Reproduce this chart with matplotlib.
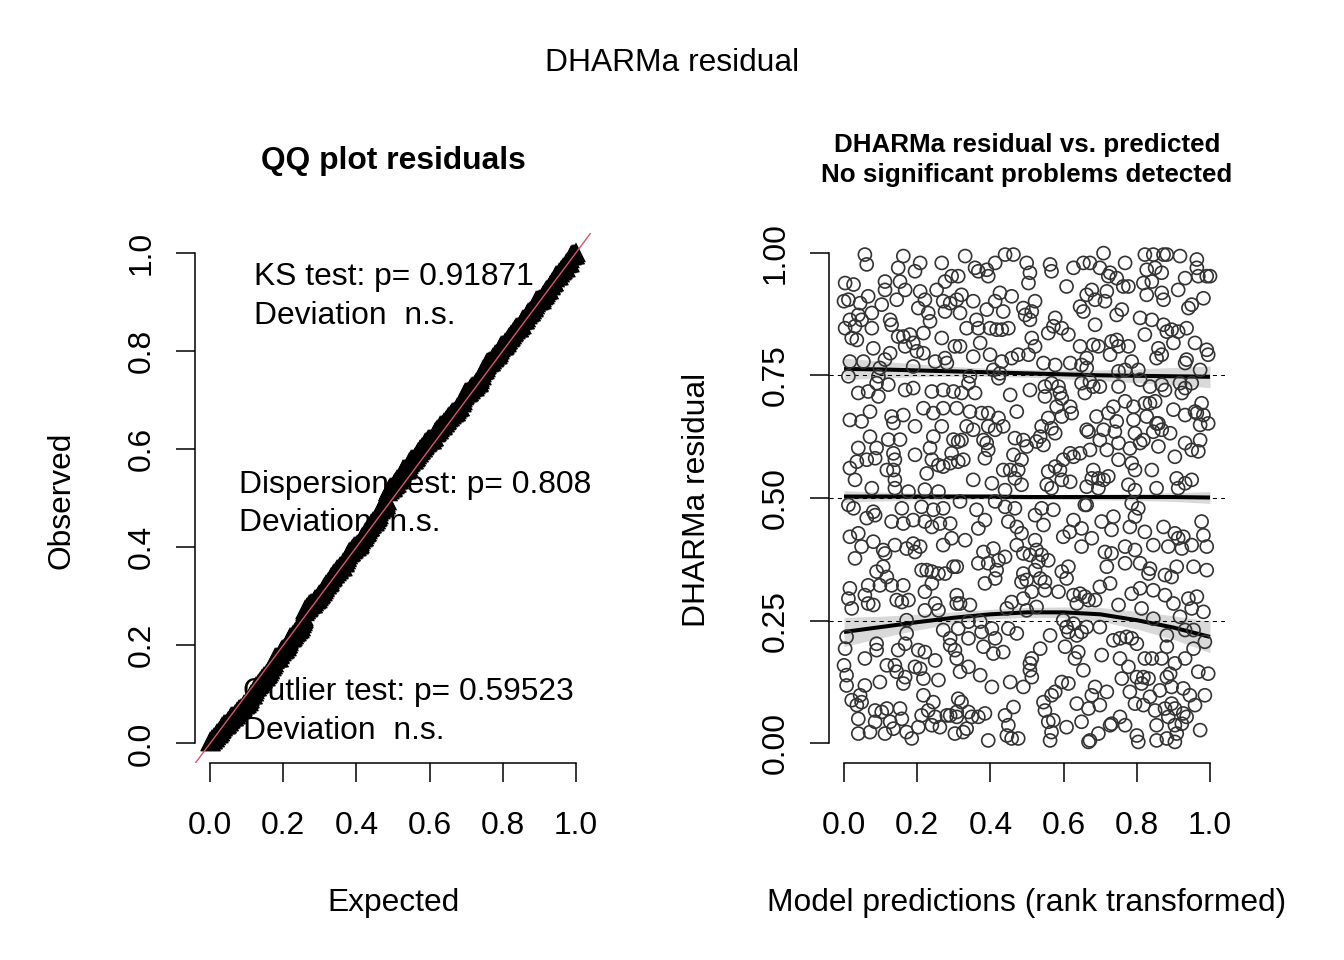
import numpy as np
import matplotlib
matplotlib.use("Agg")
import matplotlib.pyplot as plt

plt.rcParams['font.family'] = ['Liberation Sans', 'DejaVu Sans']

# scaled residuals: (rank transformed prediction, residual)
upper_left = [
    (0.057, 0.996), (0.062, 0.976), (0.162, 0.993), (0.208, 0.979), (0.267, 0.979), (0.148, 0.969),
    (0.194, 0.962), (0.003, 0.938), (0.026, 0.935), (0.112, 0.941), (0.153, 0.941), (0.294, 0.952),
    (0.276, 0.941), (0.253, 0.924), (0.112, 0.924), (0.167, 0.924), (0.208, 0.921), (0.000, 0.901),
    (0.012, 0.904), (0.044, 0.897), (0.066, 0.911), (0.103, 0.894), (0.144, 0.904), (0.221, 0.904),
    (0.271, 0.901), (0.290, 0.897), (0.039, 0.873), (0.076, 0.877), (0.016, 0.863), (0.048, 0.863),
    (0.126, 0.863), (0.130, 0.853), (0.203, 0.887), (0.230, 0.877), (0.276, 0.880), (0.003, 0.846),
    (0.030, 0.850), (0.076, 0.846), (0.235, 0.860), (0.148, 0.829), (0.162, 0.829), (0.180, 0.833),
    (0.217, 0.836), (0.021, 0.826), (0.035, 0.822), (0.189, 0.816), (0.167, 0.809), (0.080, 0.805),
    (0.126, 0.795), (0.199, 0.799), (0.217, 0.795), (0.267, 0.826), (0.303, 0.809), (0.016, 0.778),
    (0.053, 0.778), (0.112, 0.782), (0.249, 0.778), (0.276, 0.785), (0.281, 0.775), (0.098, 0.765),
    (0.189, 0.768), (0.012, 0.748), (0.094, 0.748), (0.089, 0.734), (0.121, 0.731), (0.167, 0.720),
    (0.189, 0.724), (0.039, 0.714), (0.066, 0.717), (0.094, 0.707), (0.240, 0.717), (0.271, 0.720),
    (0.299, 0.717), (0.016, 0.659), (0.048, 0.656), (0.071, 0.676), (0.130, 0.666), (0.135, 0.653),
    (0.162, 0.669), (0.217, 0.683), (0.244, 0.673), (0.271, 0.683), (0.194, 0.646), (0.267, 0.646),
    (0.071, 0.625), (0.121, 0.619), (0.153, 0.619), (0.244, 0.625), (0.299, 0.619), (0.039, 0.602),
    (0.089, 0.602), (0.135, 0.591), (0.194, 0.588), (0.235, 0.602), (0.294, 0.591), (0.016, 0.561),
    (0.035, 0.574), (0.062, 0.578), (0.085, 0.581), (0.139, 0.578), (0.240, 0.578), (0.258, 0.567),
    (0.271, 0.564), (0.290, 0.571), (0.117, 0.557), (0.135, 0.557), (0.030, 0.537), (0.139, 0.537),
    (0.226, 0.550), (0.076, 0.520), (0.139, 0.520), (0.176, 0.513), (0.221, 0.517), (0.258, 0.513),
]
upper_mid = [
    (0.331, 0.993), (0.358, 0.969), (0.367, 0.962), (0.390, 0.965), (0.394, 0.952), (0.413, 0.979),
    (0.440, 0.996), (0.463, 0.996), (0.499, 0.979), (0.508, 0.959), (0.504, 0.938), (0.563, 0.976),
    (0.567, 0.962), (0.627, 0.969), (0.654, 0.979), (0.608, 0.931), (0.312, 0.952), (0.321, 0.914),
    (0.308, 0.904), (0.353, 0.901), (0.390, 0.884), (0.413, 0.901), (0.426, 0.918), (0.458, 0.911),
    (0.435, 0.880), (0.490, 0.887), (0.495, 0.873), (0.513, 0.880), (0.522, 0.901), (0.508, 0.863),
    (0.577, 0.867), (0.572, 0.850), (0.595, 0.846), (0.613, 0.833), (0.558, 0.836), (0.645, 0.890),
    (0.654, 0.880), (0.663, 0.914), (0.317, 0.877), (0.362, 0.863), (0.367, 0.846), (0.335, 0.846),
    (0.399, 0.846), (0.417, 0.843), (0.431, 0.843), (0.449, 0.846), (0.513, 0.826), (0.522, 0.809),
    (0.317, 0.809), (0.372, 0.816), (0.399, 0.792), (0.353, 0.788), (0.431, 0.778), (0.458, 0.785),
    (0.476, 0.792), (0.504, 0.792), (0.545, 0.775), (0.577, 0.771), (0.618, 0.775), (0.649, 0.771),
    (0.645, 0.809), (0.663, 0.785), (0.408, 0.761), (0.426, 0.754), (0.422, 0.744), (0.344, 0.748),
    (0.340, 0.734), (0.321, 0.714), (0.358, 0.714), (0.454, 0.710), (0.508, 0.720), (0.549, 0.727),
    (0.567, 0.734), (0.586, 0.727), (0.590, 0.714), (0.595, 0.703), (0.549, 0.707), (0.649, 0.734),
    (0.658, 0.714), (0.308, 0.683), (0.344, 0.676), (0.376, 0.673), (0.394, 0.673), (0.422, 0.663),
    (0.435, 0.646), (0.472, 0.676), (0.335, 0.646), (0.353, 0.639), (0.394, 0.646), (0.413, 0.639),
    (0.540, 0.646), (0.567, 0.642), (0.577, 0.632), (0.618, 0.686), (0.622, 0.673), (0.581, 0.686),
    (0.595, 0.666), (0.558, 0.663), (0.663, 0.639), (0.312, 0.615), (0.321, 0.618), (0.381, 0.618),
    (0.390, 0.612), (0.394, 0.598), (0.467, 0.622), (0.490, 0.618), (0.499, 0.605), (0.463, 0.588),
    (0.485, 0.578), (0.526, 0.615), (0.545, 0.608), (0.536, 0.625), (0.312, 0.574), (0.326, 0.578),
    (0.385, 0.581), (0.454, 0.557), (0.476, 0.557), (0.467, 0.540), (0.485, 0.527), (0.435, 0.557),
    (0.353, 0.537), (0.404, 0.530), (0.440, 0.516), (0.558, 0.554), (0.577, 0.564), (0.590, 0.557),
    (0.599, 0.578), (0.618, 0.591), (0.627, 0.584), (0.645, 0.591), (0.595, 0.537), (0.618, 0.533),
    (0.554, 0.527), (0.567, 0.520), (0.663, 0.523),
]
upper_right = [
    (0.709, 0.999), (0.822, 0.996), (0.845, 0.996), (0.873, 0.996), (0.882, 0.996), (0.918, 0.993),
    (0.964, 0.986), (0.672, 0.979), (0.699, 0.969), (0.768, 0.979), (0.827, 0.965), (0.850, 0.969),
    (0.868, 0.959), (0.964, 0.969), (0.968, 0.952), (0.991, 0.952), (1.000, 0.952), (0.932, 0.948),
    (0.722, 0.952), (0.745, 0.948), (0.727, 0.959), (0.763, 0.931), (0.777, 0.931), (0.818, 0.938),
    (0.841, 0.941), (0.677, 0.924), (0.718, 0.921), (0.686, 0.904), (0.713, 0.901), (0.827, 0.914),
    (0.868, 0.918), (0.913, 0.924), (0.873, 0.904), (0.950, 0.894), (0.941, 0.887), (0.982, 0.907),
    (0.759, 0.884), (0.745, 0.873), (0.809, 0.867), (0.841, 0.863), (0.686, 0.853), (0.873, 0.853),
    (0.882, 0.839), (0.895, 0.843), (0.913, 0.839), (0.936, 0.846), (0.822, 0.833), (0.681, 0.812),
    (0.695, 0.809), (0.731, 0.819), (0.750, 0.809), (0.745, 0.822), (0.727, 0.792), (0.777, 0.809),
    (0.859, 0.805), (0.900, 0.816), (0.959, 0.816), (0.991, 0.802), (0.995, 0.792), (0.786, 0.778),
    (0.854, 0.785), (0.868, 0.792), (0.936, 0.782), (0.932, 0.775), (0.973, 0.761), (0.663, 0.765),
    (0.750, 0.758), (0.768, 0.761), (0.804, 0.761), (0.809, 0.741), (0.672, 0.737), (0.699, 0.727),
    (0.681, 0.727), (0.750, 0.727), (0.836, 0.727), (0.868, 0.731), (0.877, 0.720), (0.918, 0.734),
    (0.950, 0.734), (0.923, 0.714), (0.932, 0.724), (0.850, 0.697), (0.836, 0.693), (0.822, 0.693),
    (0.768, 0.697), (0.791, 0.686), (0.736, 0.686), (0.722, 0.673), (0.690, 0.666), (0.745, 0.656),
    (0.791, 0.659), (0.827, 0.666), (0.854, 0.652), (0.900, 0.680), (0.932, 0.669), (0.959, 0.676),
    (0.977, 0.693), (0.964, 0.673), (0.982, 0.669), (0.995, 0.652), (0.973, 0.649), (0.668, 0.635),
    (0.709, 0.639), (0.740, 0.635), (0.795, 0.632), (0.818, 0.618), (0.845, 0.635), (0.859, 0.652),
    (0.868, 0.639), (0.891, 0.632), (0.699, 0.618), (0.718, 0.598), (0.672, 0.598), (0.750, 0.612),
    (0.781, 0.601), (0.809, 0.612), (0.859, 0.605), (0.904, 0.584), (0.932, 0.612), (0.950, 0.598),
    (0.968, 0.595), (0.973, 0.618), (0.750, 0.578), (0.786, 0.571), (0.795, 0.557), (0.841, 0.557),
    (0.681, 0.557), (0.695, 0.540), (0.709, 0.537), (0.722, 0.544), (0.677, 0.540), (0.695, 0.520),
    (0.777, 0.527), (0.795, 0.516), (0.854, 0.520), (0.909, 0.540), (0.932, 0.530), (0.950, 0.537),
    (0.913, 0.520),
]
lower_left = [
    (0.012, 0.486), (0.026, 0.479), (0.080, 0.472), (0.085, 0.465), (0.062, 0.459), (0.158, 0.479),
    (0.212, 0.482), (0.244, 0.476), (0.271, 0.479), (0.130, 0.452), (0.162, 0.448), (0.189, 0.455),
    (0.221, 0.452), (0.240, 0.441), (0.262, 0.448), (0.290, 0.448), (0.016, 0.421), (0.039, 0.428),
    (0.048, 0.401), (0.080, 0.411), (0.107, 0.394), (0.112, 0.387), (0.139, 0.404), (0.189, 0.407),
    (0.208, 0.401), (0.194, 0.390), (0.171, 0.397), (0.271, 0.404), (0.294, 0.418), (0.030, 0.377),
    (0.107, 0.360), (0.089, 0.350), (0.117, 0.339), (0.212, 0.353), (0.226, 0.353), (0.240, 0.350),
    (0.258, 0.346), (0.276, 0.346), (0.299, 0.360), (0.016, 0.316), (0.066, 0.322), (0.098, 0.322),
    (0.130, 0.322), (0.162, 0.322), (0.240, 0.326), (0.057, 0.302), (0.066, 0.285), (0.080, 0.282),
    (0.144, 0.292), (0.158, 0.288), (0.176, 0.292), (0.221, 0.309), (0.221, 0.271), (0.249, 0.285),
    (0.258, 0.271), (0.012, 0.295), (0.021, 0.275), (0.308, 0.285), (0.171, 0.251), (0.007, 0.217),
    (0.003, 0.193), (0.089, 0.203), (0.089, 0.190), (0.148, 0.190), (0.171, 0.224), (0.167, 0.203),
    (0.203, 0.190), (0.221, 0.186), (0.271, 0.231), (0.290, 0.214), (0.290, 0.200), (0.303, 0.190),
    (0.057, 0.173), (0.117, 0.159), (0.139, 0.159), (0.144, 0.146), (0.194, 0.156), (0.208, 0.152),
    (0.249, 0.169), (0.000, 0.159), (0.007, 0.139), (0.007, 0.118), (0.057, 0.118), (0.098, 0.125),
    (0.167, 0.135), (0.162, 0.122), (0.217, 0.132), (0.258, 0.129), (0.044, 0.098), (0.021, 0.088),
    (0.035, 0.078), (0.048, 0.084), (0.085, 0.067), (0.103, 0.064), (0.117, 0.071), (0.153, 0.071),
    (0.158, 0.050), (0.217, 0.098), (0.244, 0.084), (0.230, 0.067), (0.212, 0.057), (0.249, 0.054),
    (0.281, 0.057), (0.290, 0.057), (0.308, 0.054), (0.039, 0.050), (0.085, 0.044), (0.126, 0.044),
    (0.135, 0.030), (0.071, 0.023), (0.039, 0.020), (0.171, 0.023), (0.185, 0.010), (0.203, 0.033),
    (0.240, 0.037), (0.262, 0.033), (0.303, 0.020), (0.112, 0.020),
]
lower_mid = [
    (0.317, 0.493), (0.362, 0.476), (0.385, 0.455), (0.367, 0.438), (0.331, 0.414), (0.308, 0.360),
    (0.413, 0.493), (0.440, 0.482), (0.467, 0.479), (0.449, 0.452), (0.472, 0.441), (0.485, 0.428),
    (0.472, 0.404), (0.522, 0.465), (0.540, 0.479), (0.572, 0.476), (0.545, 0.445), (0.522, 0.414),
    (0.599, 0.421), (0.617, 0.431), (0.627, 0.455), (0.649, 0.438), (0.649, 0.401), (0.658, 0.486),
    (0.381, 0.390), (0.408, 0.397), (0.367, 0.367), (0.394, 0.367), (0.422, 0.373), (0.440, 0.380),
    (0.417, 0.353), (0.413, 0.336), (0.385, 0.326), (0.490, 0.387), (0.508, 0.384), (0.526, 0.394),
    (0.540, 0.384), (0.531, 0.370), (0.558, 0.373), (0.490, 0.346), (0.485, 0.329), (0.499, 0.333),
    (0.522, 0.353), (0.536, 0.336), (0.513, 0.309), (0.549, 0.312), (0.586, 0.309), (0.613, 0.360),
    (0.595, 0.350), (0.608, 0.336), (0.549, 0.329), (0.308, 0.302), (0.317, 0.285), (0.344, 0.282),
    (0.458, 0.288), (0.490, 0.295), (0.526, 0.278), (0.499, 0.271), (0.445, 0.275), (0.627, 0.302),
    (0.645, 0.305), (0.658, 0.299), (0.636, 0.285), (0.312, 0.234), (0.340, 0.248), (0.372, 0.248),
    (0.376, 0.227), (0.340, 0.214), (0.404, 0.234), (0.449, 0.234), (0.472, 0.224), (0.413, 0.214),
    (0.381, 0.197), (0.408, 0.183), (0.435, 0.186), (0.563, 0.220), (0.599, 0.251), (0.608, 0.237),
    (0.613, 0.227), (0.627, 0.244), (0.636, 0.220), (0.649, 0.227), (0.604, 0.197), (0.631, 0.173),
    (0.640, 0.186), (0.308, 0.173), (0.317, 0.146), (0.340, 0.156), (0.372, 0.139), (0.513, 0.173),
    (0.508, 0.163), (0.536, 0.193), (0.513, 0.135), (0.508, 0.149), (0.454, 0.125), (0.404, 0.115),
    (0.490, 0.115), (0.595, 0.125), (0.613, 0.122), (0.654, 0.149), (0.312, 0.091), (0.321, 0.084),
    (0.340, 0.064), (0.349, 0.054), (0.367, 0.054), (0.385, 0.061), (0.335, 0.030), (0.326, 0.023),
    (0.308, 0.064), (0.463, 0.074), (0.440, 0.057), (0.449, 0.037), (0.445, 0.016), (0.458, 0.010),
    (0.476, 0.010), (0.394, 0.006), (0.545, 0.084), (0.567, 0.098), (0.577, 0.105), (0.549, 0.067),
    (0.558, 0.044), (0.572, 0.047), (0.567, 0.023), (0.563, 0.006), (0.608, 0.033), (0.636, 0.081),
    (0.649, 0.044), (0.668, 0.003),
]
lower_right = [
    (0.663, 0.486), (0.704, 0.452), (0.736, 0.462), (0.731, 0.435), (0.786, 0.489), (0.804, 0.479),
    (0.795, 0.462), (0.781, 0.441), (0.677, 0.418), (0.822, 0.431), (0.845, 0.404), (0.873, 0.441),
    (0.904, 0.428), (0.913, 0.418), (0.927, 0.421), (0.923, 0.397), (0.950, 0.404), (0.977, 0.452),
    (0.982, 0.424), (0.991, 0.401), (0.886, 0.401), (0.713, 0.390), (0.731, 0.387), (0.768, 0.401),
    (0.795, 0.394), (0.718, 0.360), (0.768, 0.367), (0.809, 0.367), (0.836, 0.356), (0.832, 0.346),
    (0.877, 0.343), (0.895, 0.339), (0.909, 0.360), (0.955, 0.360), (0.991, 0.353), (0.727, 0.326),
    (0.699, 0.319), (0.668, 0.292), (0.686, 0.292), (0.786, 0.305), (0.809, 0.316), (0.845, 0.312),
    (0.877, 0.302), (0.900, 0.285), (0.941, 0.295), (0.964, 0.299), (0.950, 0.275), (0.982, 0.268),
    (0.750, 0.282), (0.813, 0.275), (0.845, 0.254), (0.918, 0.258), (0.663, 0.237), (0.699, 0.237),
    (0.736, 0.210), (0.754, 0.214), (0.772, 0.217), (0.786, 0.214), (0.800, 0.203), (0.882, 0.220),
    (0.932, 0.231), (0.955, 0.231), (0.986, 0.207), (0.882, 0.197), (0.955, 0.193), (0.932, 0.173),
    (0.904, 0.163), (0.704, 0.180), (0.754, 0.173), (0.777, 0.156), (0.822, 0.173), (0.841, 0.173),
    (0.868, 0.173), (0.818, 0.135), (0.832, 0.132), (0.813, 0.122), (0.800, 0.135), (0.891, 0.142),
    (0.895, 0.115), (0.882, 0.135), (0.968, 0.146), (0.995, 0.142), (0.759, 0.132), (0.686, 0.115),
    (0.718, 0.105), (0.677, 0.098), (0.699, 0.078), (0.781, 0.105), (0.795, 0.081), (0.836, 0.095),
    (0.863, 0.108), (0.927, 0.112), (0.945, 0.098), (0.959, 0.078), (0.986, 0.098), (0.895, 0.081),
    (0.877, 0.071), (0.904, 0.071), (0.818, 0.078), (0.850, 0.067), (0.927, 0.061), (0.936, 0.054),
    (0.886, 0.054), (0.668, 0.071), (0.754, 0.054), (0.731, 0.040), (0.768, 0.037), (0.727, 0.037),
    (0.854, 0.037), (0.904, 0.037), (0.923, 0.040), (0.973, 0.027), (0.695, 0.020), (0.672, 0.006),
    (0.800, 0.016), (0.804, 0.003), (0.854, 0.006), (0.882, 0.010), (0.904, 0.003), (0.909, 0.020),
]

# fitted quantile curves (0.25, 0.5, 0.75) and their grey bands, read at these x positions
quant_x = [0.0, 0.1, 0.2, 0.3, 0.4, 0.5, 0.6, 0.7, 0.8, 0.9, 1.0]
q25 = [0.227, 0.237, 0.247, 0.256, 0.263, 0.267, 0.267, 0.263, 0.251, 0.236, 0.217]
q50 = [0.503, 0.503, 0.503, 0.503, 0.503, 0.502, 0.502, 0.502, 0.502, 0.502, 0.501]
q75 = [0.763, 0.762, 0.760, 0.758, 0.756, 0.754, 0.752, 0.750, 0.749, 0.748, 0.747]
q25_band = [0.030, 0.022, 0.016, 0.012, 0.010, 0.010, 0.011, 0.014, 0.018, 0.024, 0.032]
q50_band = [0.012, 0.009, 0.007, 0.006, 0.005, 0.005, 0.005, 0.006, 0.007, 0.009, 0.012]
q75_band = [0.022, 0.017, 0.013, 0.010, 0.008, 0.008, 0.009, 0.011, 0.014, 0.018, 0.022]

x_ticks = [0.0, 0.2, 0.4, 0.6, 0.8, 1.0]
qq_yticks = [0.0, 0.2, 0.4, 0.6, 0.8, 1.0]
res_yticks = [0.0, 0.25, 0.5, 0.75, 1.0]

points = upper_left + upper_mid + upper_right + lower_left + lower_mid + lower_right
pred = np.array([p[0] for p in points])
resid = np.array([p[1] for p in points])

# QQ: sorted residuals against uniform plotting positions
observed = np.sort(resid)
n = len(observed)
expected = (np.arange(1, n + 1) - 0.5) / n

FS = 22.9


def r_axes(ax, yticks, ylabels):
    ax.set_xlim(-0.04, 1.04)
    ax.set_ylim(-0.04, 1.04)
    for s in ['top', 'right']:
        ax.spines[s].set_visible(False)
    for s in ['left', 'bottom']:
        ax.spines[s].set_bounds(0, 1)
        ax.spines[s].set_linewidth(1.1)
    ax.set_xticks(x_ticks)
    ax.set_xticklabels([f"{t:.1f}" for t in x_ticks])
    ax.set_yticks(yticks)
    ax.set_yticklabels(ylabels, rotation=90, va='center')
    ax.tick_params(axis='both', length=13.7, width=1.1, labelsize=FS)
    ax.tick_params(axis='x', pad=21)
    ax.tick_params(axis='y', pad=14)
    ax.patch.set_visible(False)


fig = plt.figure(figsize=(13.44, 9.6), dpi=100)
ax1 = fig.add_axes([0.1454, 0.2052, 0.2941, 0.5521])
ax2 = fig.add_axes([0.6171, 0.2052, 0.2941, 0.5521])

# left: QQ plot
r_axes(ax1, qq_yticks, [f"{t:.1f}" for t in qq_yticks])
ax1.plot(expected, observed, linestyle='none', marker='^', markersize=11,
         mfc='none', mec='black', mew=1.7, zorder=2)
ax1.plot([-0.04, 1.04], [-0.04, 1.04], color='#DF536B', lw=1.0, zorder=3)
ax1.text(0.120, 0.935, "KS test: p= 0.91871", fontsize=FS, zorder=1)
ax1.text(0.120, 0.855, "Deviation  n.s.", fontsize=FS, zorder=1)
ax1.text(0.079, 0.510, "Dispersion test: p= 0.808", fontsize=FS, zorder=1)
ax1.text(0.079, 0.433, "Deviation  n.s.", fontsize=FS, zorder=1)
ax1.text(0.090, 0.088, "Outlier test: p= 0.59523", fontsize=FS, zorder=1)
ax1.text(0.090, 0.008, "Deviation  n.s.", fontsize=FS, zorder=1)
ax1.text(0.5, 1.1358, "QQ plot residuals", transform=ax1.transAxes, ha='center',
         va='center', fontsize=FS, fontweight='bold')
ax1.set_xlabel("Expected", fontsize=FS, va='center')
ax1.xaxis.set_label_coords(0.5, -0.2642)
ax1.set_ylabel("Observed", fontsize=FS, va='center')
ax1.yaxis.set_label_coords(-0.3376, 0.496)

# right: residual vs predicted
r_axes(ax2, res_yticks, [f"{t:.2f}" for t in res_yticks])
for q in [0.25, 0.5, 0.75]:
    ax2.axhline(q, color='black', lw=0.75, linestyle=(0, (4, 4)), zorder=1)
for line, band in [(q25, q25_band), (q50, q50_band), (q75, q75_band)]:
    lo = np.array(line) - np.array(band)
    hi = np.array(line) + np.array(band)
    ax2.fill_between(quant_x, lo, hi, color='#d9d9d9', lw=0, zorder=0)
    ax2.plot(quant_x, line, color='black', lw=2.9, zorder=2, solid_capstyle='butt')
ax2.scatter(pred, resid, s=88, facecolors='none', edgecolors='#333333',
            linewidths=1.2, zorder=3)
ax2.text(0.5, 1.1660, "DHARMa residual vs. predicted", transform=ax2.transAxes,
         ha='center', va='center', fontsize=18.7, fontweight='bold')
ax2.text(0.5, 1.1094, "No significant problems detected", transform=ax2.transAxes,
         ha='center', va='center', fontsize=18.7, fontweight='bold')
ax2.set_xlabel("Model predictions (rank transformed)", fontsize=FS, va='center')
ax2.xaxis.set_label_coords(0.5, -0.2642)
ax2.set_ylabel("DHARMa residual", fontsize=FS, va='center')
ax2.yaxis.set_label_coords(-0.335, 0.496)

fig.text(0.5, 1 - 63 / 960, "DHARMa residual", ha='center', va='center', fontsize=FS)

fig.savefig("out.png", dpi=100)
